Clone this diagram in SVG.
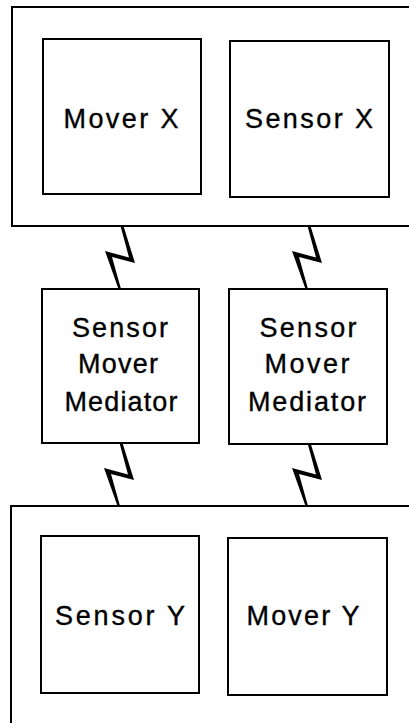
<svg xmlns="http://www.w3.org/2000/svg" width="409" height="723" viewBox="0 0 409 723">
<style>
.outer{fill:none;stroke:#000;stroke-width:2}
.box{fill:#fff;stroke:#000;stroke-width:2}
.lbl{font-family:"Liberation Sans",Arial,Helvetica,sans-serif;font-size:27px;fill:#000;stroke:#000;stroke-width:0.35;text-anchor:middle}
.bolt{fill:#000;stroke:none}
</style>
<defs>
<path id="bolt" d="M-1.5,0 L1.5,0 L13,37 L-10,31 L-1,63 L-3.5,63 L-17,25 L7,31.5 Z"/>
</defs>
<rect width="409" height="723" fill="#fff"/>
<g id="upper-unit">
<rect class="outer" x="12" y="7" width="420" height="219"/>
</g>
<g id="mover-x">
<rect class="box" x="43" y="39" width="158" height="155"/>
<text class="lbl" x="121" y="128" textLength="115" lengthAdjust="spacing">Mover X</text>
</g>
<g id="sensor-x">
<rect class="box" x="230" y="41" width="159" height="156"/>
<text class="lbl" x="309" y="128" textLength="128" lengthAdjust="spacing">Sensor X</text>
</g>
<g id="mediator-1">
<rect class="box" x="42" y="289" width="157" height="154"/>
<text class="lbl" x="120" y="337" textLength="96" lengthAdjust="spacing">Sensor</text>
<text class="lbl" x="118" y="373" textLength="80" lengthAdjust="spacing">Mover</text>
<text class="lbl" x="121" y="411" textLength="113" lengthAdjust="spacing">Mediator</text>
</g>
<g id="mediator-2">
<rect class="box" x="229" y="289" width="158" height="155"/>
<text class="lbl" x="308" y="337" textLength="97" lengthAdjust="spacing">Sensor</text>
<text class="lbl" x="307" y="373" textLength="85" lengthAdjust="spacing">Mover</text>
<text class="lbl" x="307" y="411" textLength="118" lengthAdjust="spacing">Mediator</text>
</g>
<g id="lower-unit">
<rect class="outer" x="11" y="506" width="420" height="240"/>
</g>
<g id="sensor-y">
<rect class="box" x="41" y="536" width="158" height="157"/>
<text class="lbl" x="120" y="625" textLength="130" lengthAdjust="spacing">Sensor Y</text>
</g>
<g id="mover-y">
<rect class="box" x="228" y="538" width="159" height="157"/>
<text class="lbl" x="303" y="625" textLength="113" lengthAdjust="spacing">Mover Y</text>
</g>
<g id="connectors">
<use class="bolt" href="#bolt" x="122" y="226"/>
<use class="bolt" href="#bolt" x="309" y="226"/>
<use class="bolt" href="#bolt" x="121" y="443"/>
<use class="bolt" href="#bolt" x="309" y="443"/>
</g>
</svg>
